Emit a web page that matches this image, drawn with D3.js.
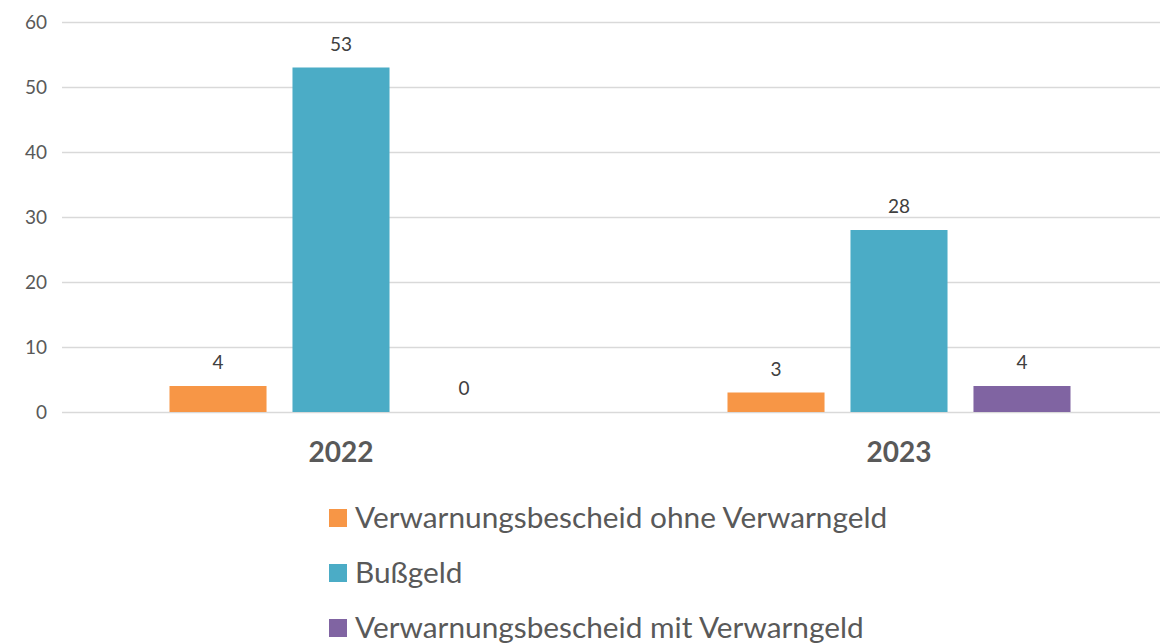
<!DOCTYPE html>
<html>
<head>
<meta charset="utf-8">
<script src="https://cdn.jsdelivr.net/npm/d3@7/dist/d3.min.js"></script>
<style>
  body { margin: 0; background: #fff; }
  svg { display: block; font-family: Lato, "Open Sans", sans-serif; }
</style>
</head>
<body>
<div id="chart"></div>
<script>
const years = ['2022', '2023'];
const seriesNames = ['Verwarnungsbescheid ohne Verwarngeld', 'Bußgeld', 'Verwarnungsbescheid mit Verwarngeld'];
const ohneValues = [4, 3];
const bussgeldValues = [53, 28];
const mitValues = [0, 4];
const yTicks = [0, 10, 20, 30, 40, 50, 60];
const colors = ['#F79646', '#4BACC6', '#8064A2'];

const width = 1160, height = 643;
const margin = { top: 22, right: -18, bottom: 231, left: 62 };

const svg = d3.select('#chart')
  .append('svg')
  .attr('width', width)
  .attr('height', height);

const g = svg.append('g')
  .attr('transform', 'translate(' + margin.left + ',' + margin.top + ')');

const innerW = width - margin.left - margin.right,
  innerH = height - margin.top - margin.bottom;

//build rows from the arrays
const allValues = [ohneValues, bussgeldValues, mitValues];
const rows = years.map(function (y, i) {
  return {
    year: y,
    values: seriesNames.map(function (s, j) {
      return { key: s, idx: j, value: allValues[j][i] };
    })
  };
});

const x0 = d3.scaleBand()
  .domain(years)
  .range([0, innerW]);

const x1 = d3.scaleBand()
  .domain(d3.range(seriesNames.length))
  .range([0, x0.bandwidth()])
  .paddingInner(0.211)
  .paddingOuter(0.874);

const y = d3.scaleLinear()
  .domain([0, 60])
  .range([innerH, 0]);

//gridlines + tick labels
const yAxis = d3.axisLeft(y)
  .tickValues(yTicks)
  .tickSize(-(width - margin.left))
  .tickPadding(16);

g.append('g')
  .attr('class', 'y axis')
  .call(yAxis)
  .attr('font-family', null)
  .call(function (a) {
    a.select('.domain').remove();
    a.selectAll('line').attr('stroke', '#d9d9d9').attr('stroke-width', 1.5);
    a.selectAll('text')
      .attr('fill', '#595959')
      .style('font-size', '19px')
      .attr('x', -15);
  });

//year labels
const xAxis = d3.axisBottom(x0).tickSize(0).tickPadding(30);
g.append('g')
  .attr('transform', 'translate(0,' + innerH + ')')
  .call(xAxis)
  .attr('font-family', null)
  .call(function (a) {
    a.select('.domain').remove();
    a.selectAll('text')
      .attr('fill', '#595959')
      .style('font-size', '28px')
      .style('font-weight', 'bold');
  });

const groups = g.selectAll('.yearGroup')
  .data(rows)
  .enter().append('g')
  .attr('class', 'yearGroup')
  .attr('transform', function (d) {
    return 'translate(' + x0(d.year) + ',0)';
  });

groups.selectAll('rect')
  .data(function (d) { return d.values; })
  .enter().append('rect')
  .attr('x', function (d) { return x1(d.idx); })
  .attr('y', function (d) { return y(d.value); })
  .attr('width', x1.bandwidth())
  .attr('height', function (d) { return innerH - y(d.value); })
  .style('fill', function (d) { return colors[d.idx]; });

groups.selectAll('.valueLabel')
  .data(function (d) { return d.values; })
  .enter().append('text')
  .attr('class', 'valueLabel')
  .attr('x', function (d) { return x1(d.idx) + x1.bandwidth() / 2; })
  .attr('y', function (d) { return y(d.value) - 17; })
  .attr('text-anchor', 'middle')
  .attr('fill', '#404040')
  .style('font-size', '19px')
  .text(function (d) { return d.value; });

//legend
const legend = svg.append('g')
  .attr('transform', 'translate(329,0)');

const legendItems = legend.selectAll('.legendItem')
  .data(seriesNames)
  .enter().append('g')
  .attr('class', 'legendItem')
  .attr('transform', function (d, i) {
    return 'translate(0,' + (518 + i * 55) + ')';
  });

legendItems.append('rect')
  .attr('x', 0)
  .attr('y', -9)
  .attr('width', 18)
  .attr('height', 18)
  .style('fill', function (d, i) { return colors[i]; });

legendItems.append('text')
  .attr('x', 26)
  .attr('dy', '0.35em')
  .attr('fill', '#595959')
  .style('font-size', '29.8px')
  .text(function (d) { return d; });
</script>
</body>
</html>
